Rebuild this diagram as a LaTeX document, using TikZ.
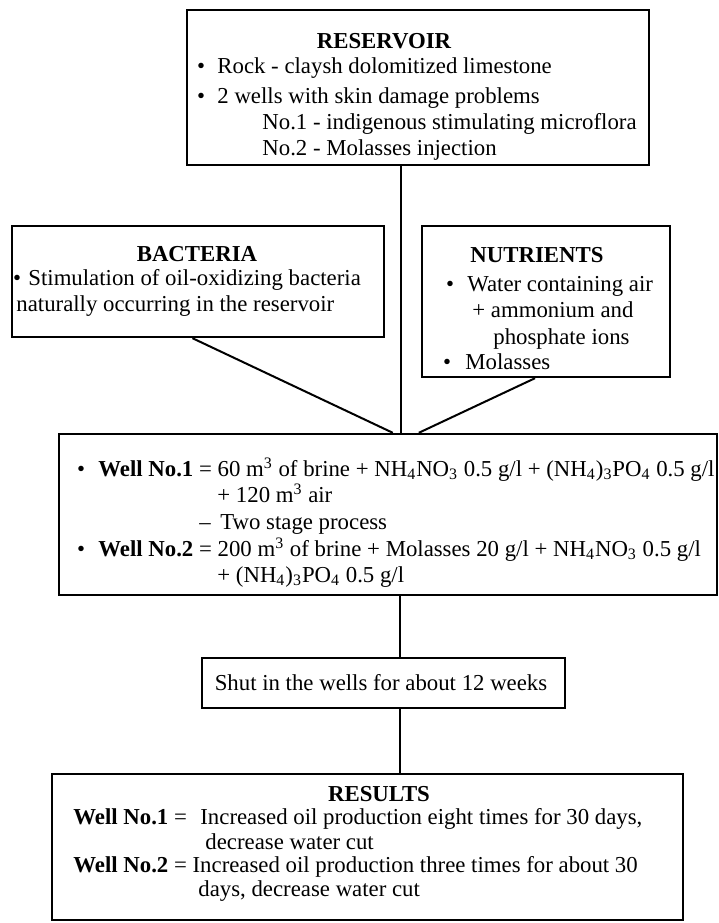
\documentclass[tikz,border=0pt]{standalone}
\usepackage{fontspec}
\setmainfont{Liberation Serif}
\usetikzlibrary{fit}
\begin{document}
\begin{tikzpicture}[x=0.5pt,y=-0.5pt,
  box/.style={draw, line width=1.2pt, inner sep=0pt, rectangle},
  link/.style={line width=1pt},
  txt/.style={inner sep=0pt, anchor=mid west, font=\fontsize{11.4}{13}\selectfont},
  ttl/.style={inner sep=0pt, anchor=mid, font=\fontsize{11.4}{13}\selectfont\bfseries},
  dot/.style={inner sep=0pt, anchor=mid, font=\fontsize{11.4}{13}\selectfont}]
\useasboundingbox (0,0) rectangle (719,923);

% frames
\node[box, fit={(187,10)(649,165)}] (res) {};
\node[box, fit={(12,226)(384,337)}] (bact) {};
\node[box, fit={(422,226)(670,377)}] (nut) {};
\node[box, fit={(59,434)(717,595)}] (well) {};
\node[box, fit={(202,658)(565,708)}] (shut) {};
\node[box, fit={(52,774)(683,920)}] (out) {};

% reservoir
\node[ttl] (resT) at (384,44) {RESERVOIR};
\node[dot] (resB1) at (201,69) {\textbullet};
\node[txt] (resL1) at (217,69) {Rock - claysh dolomitized limestone};
\node[dot] (resB2) at (201,99) {\textbullet};
\node[txt] (resL2) at (217,99) {2 wells with skin damage problems};
\node[txt] (resL3) at (262,125) {No.1 - indigenous stimulating microflora};
\node[txt] (resL4) at (262,151) {No.2 - Molasses injection};

% bacteria
\node[ttl] (bactT) at (197,257) {BACTERIA};
\node[dot] (bactB1) at (17,281) {\textbullet};
\node[txt] (bactL1) at (28,281) {Stimulation of oil-oxidizing bacteria};
\node[txt] (bactL2) at (16,307) {naturally occurring in the reservoir};

% nutrients
\node[ttl] (nutT) at (537,258) {NUTRIENTS};
\node[dot] (nutB1) at (450,287) {\textbullet};
\node[txt] (nutL1) at (467,287) {Water containing air};
\node[txt] (nutL2) at (472,313) {+ ammonium and};
\node[txt] (nutL3) at (493,340) {phosphate ions};
\node[dot] (nutB2) at (447,365) {\textbullet};
\node[txt] (nutL4) at (465,365) {Molasses};

% treatment of the two wells
\node[dot] (wellB1) at (81,472) {\textbullet};
\node[txt] (wellL1) at (98,472) {\textbf{Well No.1} = 60 m\textsuperscript{3} of brine + NH\textsubscript{4}NO\textsubscript{3} 0.5 g/l + (NH\textsubscript{4})\textsubscript{3}PO\textsubscript{4} 0.5 g/l};
\node[txt] (wellL2) at (217,498) {+ 120 m\textsuperscript{3} air};
\node[txt] (wellL3) at (199,525) {–\, Two stage process};
\node[dot] (wellB2) at (81,552) {\textbullet};
\node[txt] (wellL4) at (98,552) {\textbf{Well No.2} = 200 m\textsuperscript{3} of brine + Molasses 20 g/l + NH\textsubscript{4}NO\textsubscript{3} 0.5 g/l};
\node[txt] (wellL5) at (217,578) {+ (NH\textsubscript{4})\textsubscript{3}PO\textsubscript{4} 0.5 g/l};

% shut-in
\node[txt, anchor=mid] (shutL) at (381,686) {Shut in the wells for about 12 weeks};

% results
\node[ttl] (outT) at (379,797) {RESULTS};
\node[txt] (outK1) at (73,820) {\textbf{Well No.1} =};
\node[txt] (outL1) at (200,820) {Increased oil production eight times for 30 days,};
\node[txt] (outL2) at (205,845) {decrease water cut};
\node[txt] (outK2) at (73,868) {\textbf{Well No.2} = Increased oil production three times for about 30};
\node[txt] (outL4) at (198,892) {days, decrease water cut};

% connectors
\path (well.north west) ++(343,0) coordinate (wj);
\coordinate (sj) at ([xshift=8pt]shut.north);
\draw[link] (res.south -| wj) -- (wj);
\draw[link] ([xshift=-2.75pt]bact.south) -- ([xshift=-4pt]wj);
\draw[link] ([xshift=-5.5pt]nut.south) -- ([xshift=9pt]wj);
\draw[link] (well.south -| sj) -- (sj);
\draw[link] ([xshift=8pt]shut.south) -- (out.north -| sj);
\end{tikzpicture}
\end{document}
